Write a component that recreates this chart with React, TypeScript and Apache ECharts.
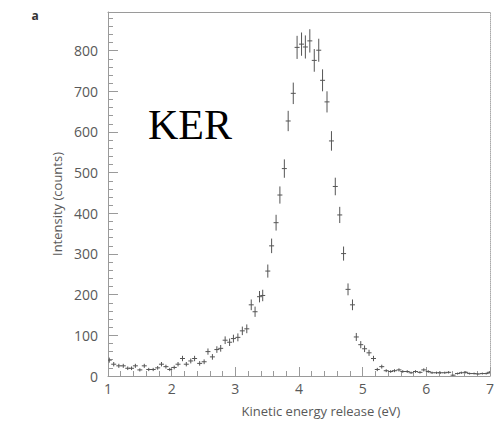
import React, { useEffect, useRef } from "react";
import * as echarts from "echarts";

const energy = [
  1.02, 1.09, 1.17, 1.24, 1.31, 1.37, 1.43, 1.5, 1.57, 1.64,
  1.71, 1.78, 1.84, 1.91, 1.97, 2.04, 2.1, 2.17, 2.23, 2.3,
  2.36, 2.44, 2.51, 2.57, 2.64, 2.71, 2.77, 2.84, 2.91, 2.97,
  3.04, 3.11, 3.18, 3.25, 3.31, 3.38, 3.43, 3.51, 3.57, 3.64,
  3.7, 3.77, 3.83, 3.91, 3.97, 4.04, 4.1, 4.17, 4.24, 4.31,
  4.37, 4.44, 4.51, 4.57, 4.64, 4.7, 4.77, 4.84, 4.9, 4.97,
  5.03, 5.1, 5.17, 5.23, 5.3, 5.37, 5.44, 5.5, 5.57, 5.63,
  5.7, 5.76, 5.83, 5.9, 5.96, 6.03, 6.09, 6.16, 6.22, 6.29,
  6.35, 6.42, 6.49, 6.55, 6.62, 6.68, 6.75, 6.81, 6.88, 6.94, 6.99,
];

const counts = [
  39, 29, 25, 25, 19, 19, 25, 15, 25, 16,
  16, 20, 29, 23, 16, 21, 29, 43, 29, 37,
  43, 31, 35, 60, 47, 65, 68, 88, 83, 92,
  95, 111, 116, 175, 158, 195, 198, 258, 320, 377,
  445, 510, 627, 695, 808, 816, 809, 824, 776, 801,
  727, 674, 578, 466, 396, 301, 213, 175, 96, 77,
  67, 57, 43, 16, 23, 13, 11, 13, 15, 11,
  11, 8, 11, 9, 15, 11, 8, 8, 8, 8,
  9, 2, 6, 8, 9, 6, 6, 5, 6, 6, 9,
];

const errors = [
  6.2, 5.4, 5, 5, 4.4, 4.4, 5, 3.9, 5, 4,
  4, 4.5, 5.4, 4.8, 4, 4.6, 5.4, 6.6, 5.4, 6.1,
  6.6, 5.6, 5.9, 7.7, 6.9, 8.1, 8.2, 9.4, 9.1, 9.6,
  9.7, 10.5, 10.8, 13.2, 12.6, 14, 14.1, 16.1, 17.9, 19.4,
  21.1, 22.6, 25, 26.4, 28.4, 28.6, 28.4, 28.7, 27.9, 28.3,
  27, 26, 24, 21.6, 19.9, 17.3, 14.6, 13.2, 9.8, 8.8,
  8.2, 7.5, 6.6, 4, 4.8, 3.6, 3.3, 3.6, 3.9, 3.3,
  3.3, 2.8, 3.3, 3, 3.9, 3.3, 2.8, 2.8, 2.8, 2.8,
  3, 1.4, 2.4, 2.8, 3, 2.4, 2.4, 2.2, 2.4, 2.4, 3,
];

const xTicks = [1, 2, 3, 4, 5, 6, 7];
const yTicks = [0, 100, 200, 300, 400, 500, 600, 700, 800];

const title = "KER";
const panelLabel = "a";
const xName = "Kinetic energy release (eV)";
const yName = "Intensity (counts)";

const axisGray = "#9a9a9a";
const labelGray = "#595959";
const markGray = "#555";
const font = "'Open Sans', 'DejaVu Sans', sans-serif";

export default function App() {
  const ref = useRef<HTMLDivElement>(null);

  useEffect(() => {
    document.body.style.margin = "0";
    if (!ref.current) return;
    const chart = echarts.init(ref.current, undefined, { renderer: "svg" });

    const data = energy.map((x, i) => [x, counts[i], errors[i]]);

    chart.setOption({
      animation: false,
      backgroundColor: "#fff",
      grid: { left: 108, right: 5, top: 12, bottom: 45, containLabel: false },
      xAxis: [
        {
          type: "value",
          min: xTicks[0],
          max: xTicks[xTicks.length - 1],
          interval: 1,
          axisLine: { show: true, lineStyle: { color: axisGray, width: 1 } },
          axisTick: { show: true, inside: true, length: 9, lineStyle: { color: axisGray } },
          minorTick: { show: true, splitNumber: 5, length: 5, lineStyle: { color: axisGray } },
          splitLine: { show: false },
          axisLabel: { color: labelGray, fontSize: 14, fontFamily: font, margin: 5 },
        },
        {
          type: "value",
          position: "top",
          min: xTicks[0],
          max: xTicks[xTicks.length - 1],
          axisLine: { show: true, onZero: false, lineStyle: { color: axisGray, width: 1 } },
          axisTick: { show: false },
          axisLabel: { show: false },
          splitLine: { show: false },
        },
      ],
      yAxis: [
        {
          type: "value",
          min: yTicks[0],
          max: 895,
          interval: 100,
          axisLine: { show: true, lineStyle: { color: axisGray, width: 1 } },
          axisTick: { show: true, inside: true, length: 10, lineStyle: { color: axisGray } },
          minorTick: { show: true, splitNumber: 5, length: 5, lineStyle: { color: axisGray } },
          splitLine: { show: false },
          axisLabel: {
            color: labelGray,
            fontSize: 14,
            fontFamily: font,
            margin: 10,
            showMaxLabel: false,
          },
        },
        {
          type: "value",
          position: "right",
          min: 0,
          max: 895,
          axisLine: { show: true, onZero: false, lineStyle: { color: "#aaa", width: 1, type: "dotted" } },
          axisTick: { show: false },
          axisLabel: { show: false },
          splitLine: { show: false },
        },
      ],
      series: [
        {
          type: "custom",
          xAxisIndex: 0,
          yAxisIndex: 0,
          clip: true,
          encode: { x: 0, y: 1 },
          data,
          renderItem: (params: any, api: any) => {
            const x = api.value(0);
            const y = api.value(1);
            const e = api.value(2);
            const c = api.coord([x, y]);
            const top = api.coord([x, y + e]);
            const bot = api.coord([x, Math.max(0, y - e)]);
            const style = { stroke: markGray, lineWidth: 1, fill: null };
            return {
              type: "group",
              children: [
                { type: "line", shape: { x1: c[0], y1: top[1], x2: c[0], y2: bot[1] }, style },
                { type: "line", shape: { x1: c[0] - 2.5, y1: c[1], x2: c[0] + 2.5, y2: c[1] }, style },
              ],
            };
          },
        },
      ],
      graphic: [
        {
          type: "text",
          x: 35,
          y: 15,
          style: {
            text: panelLabel,
            fontSize: 12,
            fontWeight: "bold",
            fontFamily: font,
            fill: "#333",
            align: "center",
            verticalAlign: "middle",
          },
        },
        {
          type: "text",
          x: 190,
          y: 125,
          style: {
            text: title,
            fontSize: 42,
            fontFamily: "'Liberation Serif', 'DejaVu Serif', serif",
            fill: "#000",
            align: "center",
            verticalAlign: "middle",
          },
        },
        {
          type: "text",
          x: 321,
          y: 411,
          style: {
            text: xName,
            fontSize: 13,
            fontFamily: font,
            fill: labelGray,
            align: "center",
            verticalAlign: "middle",
          },
        },
        {
          type: "text",
          x: 57,
          y: 204,
          rotation: Math.PI / 2,
          style: {
            text: yName,
            fontSize: 13,
            fontFamily: font,
            fill: labelGray,
            align: "center",
            verticalAlign: "middle",
          },
        },
      ],
    });

    return () => chart.dispose();
  }, []);

  return <div ref={ref} style={{ width: 497, height: 421 }} />;
}
